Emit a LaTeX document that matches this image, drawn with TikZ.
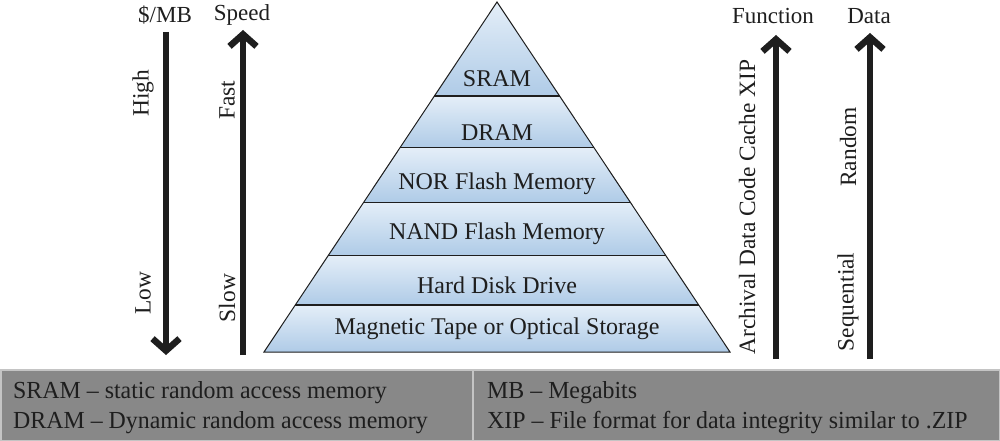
\documentclass[tikz,border=0pt]{standalone}
\usepackage{fontspec}
\setmainfont{Liberation Serif}
\usetikzlibrary{arrows.meta}
\definecolor{bandtop}{HTML}{E4EEF8}
\definecolor{bandbot}{HTML}{AFCBE7}
\definecolor{boxgray}{HTML}{888888}
\definecolor{boxline}{HTML}{C4C4C4}
\definecolor{ink}{HTML}{1E1E1E}
\tikzset{
  lbl/.style={font=\fontsize{24}{28}\selectfont, text=ink, inner sep=0pt},
  hlbl/.style={font=\fontsize{23}{27}\selectfont, text=ink, inner sep=0pt},
  rlbl/.style={hlbl, font=\fontsize{23.4}{27}\selectfont, rotate=90},
  legend/.style={font=\fontsize{24.5}{28}\selectfont, text=ink, inner sep=0pt, anchor=base west, xscale=0.975},
  bigarrow/.style={line width=6.5pt, draw=ink, -{Straight Barb[length=12pt,width=27pt]}},
  sep/.style={draw=ink, line width=1.4pt},
}
\begin{document}
\begin{tikzpicture}[x=1pt,y=-1pt]
\useasboundingbox (0,0) rectangle (1000,441);
% pyramid bands
\def\ax{497}\def\ay{2}\def\k{0.6657}
\foreach \ya/\yb in {2/96,96/147.5,147.5/202.5,202.5/255.5,255.5/305,305/352}{
  \pgfmathsetmacro{\wa}{(\ya-\ay)*\k}
  \pgfmathsetmacro{\wb}{(\yb-\ay)*\k}
  \shade[top color=bandtop, bottom color=bandbot]
    (\ax-\wa,\ya) -- (\ax+\wa,\ya) -- (\ax+\wb,\yb) -- (\ax-\wb,\yb) -- cycle;
}
\foreach \yy in {96,147.5,202.5,255.5,305}{
  \pgfmathsetmacro{\w}{(\yy-\ay)*\k}
  \draw[sep] (\ax-\w,\yy) -- (\ax+\w,\yy);
}
\draw[draw=ink, line width=1pt, line join=miter] (497,2) -- (730,352) -- (264,352) -- cycle;
% pyramid labels
\node[lbl] (sram) at (497,79) {SRAM};
\node[lbl] (dram) at (497,133) {DRAM};
\node[lbl] (nor) at (497,184) {NOR Flash Memory};
\node[lbl] (nand) at (497,234) {NAND Flash Memory};
\node[lbl] (hdd) at (497,285) {Hard Disk Drive};
\node[lbl] (tape) at (497,329) {Magnetic Tape or Optical Storage};
% axis headings
\node[hlbl] (cost) at (165,15) {\$/MB};
\node[hlbl] (speed) at (242,15) {Speed};
\node[hlbl] (func) at (773,16) {Function};
\node[hlbl] (data) at (869,16) {Data};
% arrows
\coordinate (costA) at (166,32);
\coordinate (costB) at (166,355);
\coordinate (speedA) at (243,355);
\coordinate (speedB) at (243,30);
\coordinate (funcA) at (776,359);
\coordinate (funcB) at (776,35);
\coordinate (dataA) at (870,359);
\coordinate (dataB) at (870,33);
\draw[bigarrow] (costA) -- (costB);
\draw[bigarrow] (speedA) -- (speedB);
\draw[bigarrow] (funcA) -- (funcB);
\draw[bigarrow] (dataA) -- (dataB);
% rotated labels
\node[rlbl] (high) at (143,93) {High};
\node[rlbl] (low) at (143,293) {Low};
\node[rlbl] (fast) at (227,100) {Fast};
\node[rlbl] (slow) at (227,298) {Slow};
\node[rlbl] (arch) at (747,207) {Archival Data Code Cache XIP};
\node[rlbl] (rand) at (848,147) {Random};
\node[rlbl] (seq) at (848,302) {Sequential};
% legend box
\draw[fill=boxgray, draw=boxline, line width=1.5pt] (0.75,370) rectangle (999.25,440.25);
\draw[draw=boxline, line width=1.5pt] (473,370) -- (473,440.25);
\node[legend] (l1) at (13,398) {SRAM -- static random access memory};
\node[legend] (l2) at (13,428) {DRAM -- Dynamic random access memory};
\node[legend] (l3) at (487,398) {MB -- Megabits};
\node[legend] (l4) at (487,428) {XIP -- File format for data integrity similar to .ZIP};
\end{tikzpicture}
\end{document}
